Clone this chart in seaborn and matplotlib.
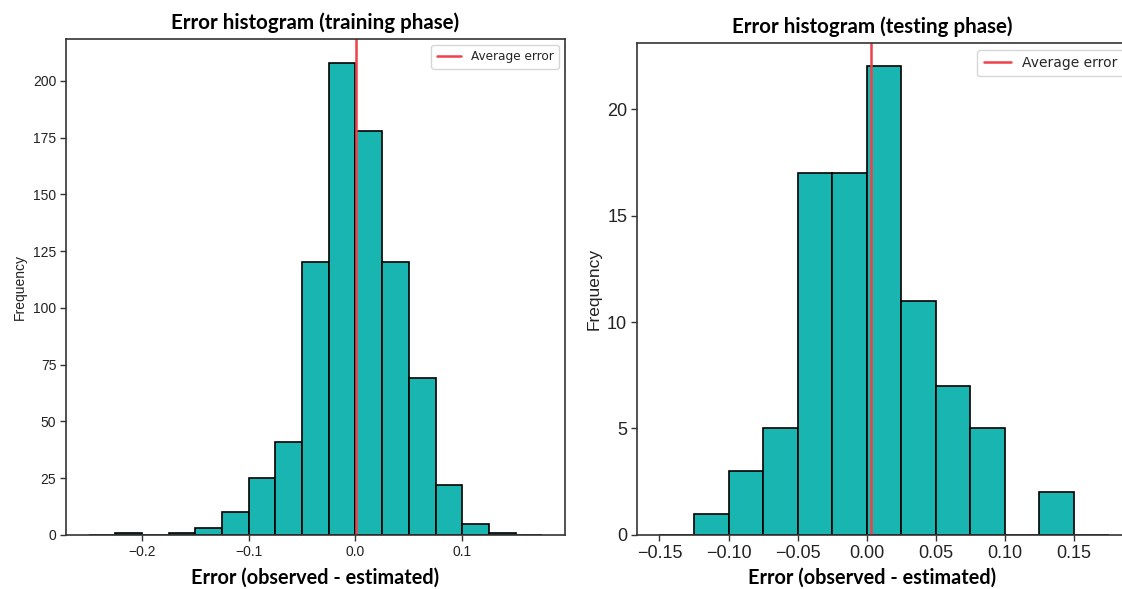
import matplotlib
matplotlib.use("Agg")
import matplotlib.pyplot as plt
import seaborn as sns

# Bin edges (width 0.025) and counts
train_edges = [-0.25, -0.225, -0.2, -0.175, -0.15, -0.125, -0.1, -0.075, -0.05,
               -0.025, 0.0, 0.025, 0.05, 0.075, 0.1, 0.125, 0.15, 0.175]
train_counts = [0, 1, 0, 1, 3, 10, 25, 41, 120, 208, 178, 120, 69, 22, 5, 1, 0]
train_mean = 0.0005

test_edges = [-0.15, -0.125, -0.1, -0.075, -0.05, -0.025, 0.0, 0.025, 0.05,
              0.075, 0.1, 0.125, 0.15, 0.175]
test_counts = [0, 1, 3, 5, 17, 17, 22, 11, 7, 5, 0, 2, 0]
test_mean = 0.003

train_xticks = [-0.2, -0.1, 0.0, 0.1]
train_yticks = [0, 25, 50, 75, 100, 125, 150, 175, 200]
test_xticks = [-0.15, -0.10, -0.05, 0.00, 0.05, 0.10, 0.15]
test_yticks = [0, 5, 10, 15, 20]

BAR = '#19b5b0'
LINE = '#f0404a'
SPINE = '#333333'

sns.set_theme(style="white")
plt.rcParams['font.family'] = ['Liberation Sans', 'DejaVu Sans']

fig = plt.figure(figsize=(11.22, 5.89), dpi=100)
ax1 = fig.add_axes([0.0588, 0.0917, 0.4447, 0.8421])
ax2 = fig.add_axes([0.5677, 0.0917, 0.4403, 0.8353])


def centers(edges):
    return [(a + b) / 2 for a, b in zip(edges[:-1], edges[1:])]


def draw(ax, edges, counts, mean, xticks, yticks, title, tick_fs, lab_fs,
         leg_fs, xfmt, label_x):
    sns.histplot(x=centers(edges), weights=counts, bins=edges, ax=ax,
                 color=BAR, edgecolor='black', linewidth=1.2, alpha=1)
    ax.axvline(mean, color=LINE, linewidth=1.8, label='Average error')
    ax.set_xticks(xticks)
    ax.set_xticklabels([xfmt.format(v).replace('-', '\u2212') for v in xticks])
    ax.set_yticks(yticks)
    ax.tick_params(axis='both', which='both', bottom=True, left=True,
                   length=4, width=1, color=SPINE, labelsize=tick_fs,
                   labelcolor='#222222', pad=3)
    for s in ax.spines.values():
        s.set_color(SPINE)
        s.set_linewidth(1.2)
    ax.set_ylabel('Frequency', fontsize=lab_fs, color='#222222')
    ax.set_xlabel('Error (observed - estimated)', fontsize=14.3,
                  family=['Lato', 'DejaVu Sans'], fontweight='bold',
                  color='black')
    ax.xaxis.set_label_coords(label_x, -0.066, transform=ax.transAxes)
    ax.xaxis.label.set_va('top')
    ax.set_title(title, fontsize=14.8, family=['Lato', 'DejaVu Sans'],
                 fontweight='bold', color='black', pad=7, x=label_x)
    ax.legend(loc='upper right', prop={'family': 'DejaVu Sans', 'size': leg_fs},
              frameon=True, fancybox=True, borderpad=0.45, handlelength=2.0)


draw(ax1, train_edges, train_counts, train_mean, train_xticks, train_yticks,
     'Error histogram (training phase)', 10, 10, 8.7, '{:.1f}', 0.5)
draw(ax2, test_edges, test_counts, test_mean, test_xticks, test_yticks,
     'Error histogram (testing phase)', 13, 12.5, 10, '{:.2f}', 0.476)

fig.savefig('out.png', dpi=100)
